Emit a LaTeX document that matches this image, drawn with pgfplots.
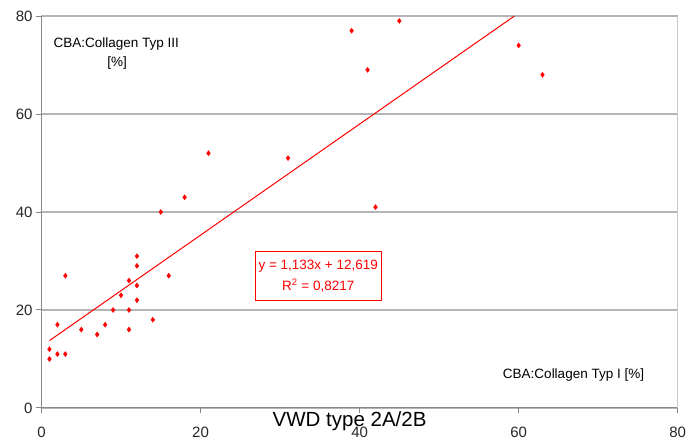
\documentclass[border=0pt]{standalone}
\usepackage{fontspec}
\setmainfont{Liberation Sans}
\usepackage{pgfplots}
\pgfplotsset{compat=1.18}
\usepackage{pgfplotstable}

\definecolor{xlred}{RGB}{255,0,0}
\definecolor{gridgray}{RGB}{180,180,180}
\definecolor{axgray}{RGB}{135,135,135}
\definecolor{boxgray}{RGB}{200,200,200}

% CBA: Collagen Typ I [%]  vs  CBA: Collagen Typ III [%]
\pgfplotstableread{
x  y
1  10
1  12
2  11
3  11
2  17
3  27
5  16
7  15
8  17
9  20
10 23
11 20
11 16
11 26
12 22
12 25
12 29
12 31
14 18
16 27
15 40
18 43
21 52
31 51
39 77
41 69
42 41
45 79
60 74
63 68
}\cba

\begin{document}
\begin{tikzpicture}
\begin{axis}[
  at={(0,0)}, anchor=south west,
  scale only axis, width=636.2pt, height=392pt,
  xmin=0, xmax=80, ymin=0, ymax=80,
  xtick={0,20,...,80}, ytick={0,20,...,80},
  axis lines=left,
  axis line style={-, axgray, line width=1pt},
  tick align=outside,
  major tick length=5.5pt,
  tick style={axgray, line width=1pt},
  ymajorgrids,
  grid style={gridgray, line width=1.8pt},
  /pgf/number format/assume math mode=true,
  tick label style={font=\fontsize{15}{18}\selectfont, text=black!85},
  xticklabel style={yshift=-9.5pt},
  clip=false,
]
\draw[boxgray, line width=1.2pt] (axis cs:80,0) -- (axis cs:80,80);
\addplot[only marks, mark=diamond*, mark size=2.5pt, color=xlred] table[x=x, y=y] {\cba};
\addplot[xlred, line width=1pt] coordinates {(1,13.752) (59.47,80)};

\node[font=\fontsize{13.5}{16}\selectfont, anchor=base] at (axis cs:9.4,73.6) {CBA:Collagen Typ III};
\node[font=\fontsize{13.5}{16}\selectfont, anchor=base] at (axis cs:9.5,69.7) {[\%]};
\node[font=\fontsize{13.5}{16}\selectfont, anchor=base] at (axis cs:66.9,6.06) {CBA:Collagen Typ I [\%]};
\node[draw=xlred, line width=1.3pt, fill=white, text=xlred, align=center,
      minimum width=126pt, minimum height=49pt, inner sep=2pt,
      font=\fontsize{13.5}{20.5}\selectfont] at (axis cs:34.8,26.9)
      {y = 1,133x + 12,619\\R\textsuperscript{2} = 0,8217};
\node[font=\fontsize{20.5}{24}\selectfont, anchor=base] at (axis cs:38.74,-3.82) {VWD type 2A/2B};
\end{axis}
\pgfresetboundingbox
\path[use as bounding box] (-41.5pt,-31pt) rectangle (652.5pt,408pt);
\end{tikzpicture}
\end{document}
